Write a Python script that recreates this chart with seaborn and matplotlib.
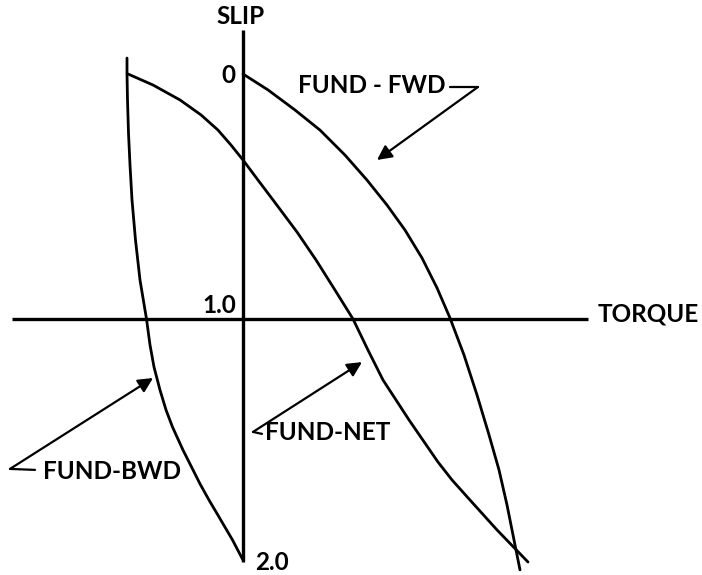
import numpy as np
import pandas as pd
import matplotlib
matplotlib.use("Agg")
import matplotlib.pyplot as plt
import seaborn as sns

# Torque-slip curves of the fundamental field components (torque in arbitrary units)
fwd_slip = [0.0, 0.065, 0.147, 0.229, 0.331, 0.433, 0.535, 0.637, 0.751, 0.873,
            0.996, 1.147, 1.310, 1.473, 1.616, 1.759, 1.902, 2.024]
fwd_torque = [0.0, 0.25, 0.52, 0.77, 1.02, 1.24, 1.44, 1.62, 1.79, 1.94,
              2.07, 2.21, 2.34, 2.46, 2.56, 2.64, 2.71, 2.77]

net_slip = [0.0, 0.045, 0.106, 0.167, 0.229, 0.290, 0.351, 0.433, 0.514, 0.645,
            0.759, 0.882, 1.0, 1.127, 1.249, 1.412, 1.584, 1.657, 1.739, 1.861, 1.992]
net_torque = [-1.15, -0.90, -0.63, -0.42, -0.25, -0.12, 0.0, 0.15, 0.30, 0.54,
              0.73, 0.92, 1.10, 1.25, 1.40, 1.66, 1.95, 2.09, 2.27, 2.54, 2.85]

bwd_slip = [-0.065, 0.0, 0.106, 0.241, 0.371, 0.514, 0.678, 0.841, 1.0, 1.106,
            1.196, 1.290, 1.371, 1.441, 1.535, 1.616, 1.673, 1.739, 1.808, 1.902, 1.984]
bwd_torque = [-1.16, -1.16, -1.155, -1.145, -1.13, -1.11, -1.075, -1.03, -0.965, -0.93,
              -0.89, -0.83, -0.77, -0.705, -0.60, -0.50, -0.43, -0.34, -0.24, -0.105, 0.0]

slip_ticks = [0.0, 1.0, 2.0]
slip_tick_labels = ["0", "1.0", "2.0"]

df = pd.concat([
    pd.DataFrame({"curve": "FUND-FWD", "slip": fwd_slip, "torque": fwd_torque}),
    pd.DataFrame({"curve": "FUND-NET", "slip": net_slip, "torque": net_torque}),
    pd.DataFrame({"curve": "FUND-BWD", "slip": bwd_slip, "torque": bwd_torque}),
], ignore_index=True)

sns.set_theme(style="white")
plt.rcParams["font.family"] = ["Lato", "DejaVu Sans"]

fig = plt.figure(figsize=(7.02, 5.75), dpi=100)
ax = fig.add_axes([0, 0, 1, 1])

sns.lineplot(data=df, x="torque", y="slip", hue="curve", units="curve",
             estimator=None, sort=False, palette=["black"] * 3,
             linewidth=2.0, legend=False, ax=ax)
for line in ax.get_lines():
    line.set_solid_joinstyle("round")
    line.set_solid_capstyle("round")

ax.set_xlim(-2.43, 4.59)
ax.set_ylim(2.045, -0.302)
ax.set_axis_off()

# Axes of the diagram
ax.plot([0, 0], [-0.18, 1.992], color="black", lw=2.4, solid_capstyle="butt")
ax.plot([-2.31, 3.45], [1.0, 1.0], color="black", lw=2.4, solid_capstyle="butt")

txt = dict(color="black", fontsize=17.5, fontweight="bold")
ax.text(-0.02, -0.233, "SLIP", ha="center", va="center", **txt)
ax.text(3.55, 0.98, "TORQUE", ha="left", va="center", **txt)

# Slip scale labels beside the vertical axis
ax.text(-0.15, slip_ticks[0] + 0.008, slip_tick_labels[0], ha="center", va="center", **txt)
ax.text(-0.24, slip_ticks[1] - 0.053, slip_tick_labels[1], ha="center", va="center", **txt)
ax.text(0.29, slip_ticks[2] - 0.004, slip_tick_labels[2], ha="center", va="center", **txt)

# Curve labels with leader arrows
arrow = dict(arrowstyle="-|>", color="black", lw=1.6, mutation_scale=22,
             shrinkA=0, shrinkB=0)

ax.text(0.55, 0.045, "FUND - FWD", ha="left", va="center", **txt)
ax.plot([2.07, 2.35], [0.053, 0.053], color="black", lw=1.6)
ax.annotate("", xy=(1.34, 0.351), xytext=(2.35, 0.053), arrowprops=arrow)

ax.text(-2.0, 1.624, "FUND-BWD", ha="left", va="center", **txt)
ax.plot([-2.08, -2.33], [1.616, 1.612], color="black", lw=1.6)
ax.annotate("", xy=(-0.90, 1.241), xytext=(-2.33, 1.612), arrowprops=arrow)

ax.text(0.22, 1.465, "FUND-NET", ha="left", va="center", **txt)
ax.plot([0.10, 0.19], [1.461, 1.469], color="black", lw=1.6)
ax.annotate("", xy=(1.19, 1.176), xytext=(0.10, 1.461), arrowprops=arrow)

fig.savefig("out.png", dpi=100, facecolor="white")
